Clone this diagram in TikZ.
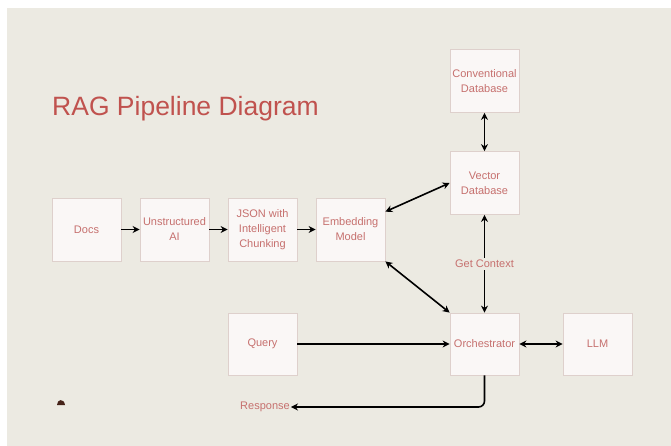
\documentclass[tikz,border=0pt]{standalone}
\usepackage{fontspec}
\setmainfont{Liberation Sans}
\usetikzlibrary{arrows.meta,calc}
\definecolor{bg}{RGB}{236,234,226}
\definecolor{boxfill}{RGB}{250,247,246}
\definecolor{boxline}{RGB}{222,208,204}
\definecolor{titlecol}{RGB}{192,82,78}
\definecolor{txtcol}{RGB}{198,112,110}
\definecolor{blob}{RGB}{70,35,25}
\tikzset{
  stagebox/.style={draw=boxline, fill=boxfill, line width=0.8pt, minimum width=69pt, minimum height=63pt,
    inner sep=1pt, align=center, text=txtcol, font=\fontsize{11}{15}\selectfont},
  arr/.style={draw=black, line width=1.6pt, -{Stealth[length=7pt,width=7pt]}},
  dblarr/.style={draw=black, line width=1.6pt, {Stealth[length=7pt,width=7pt]}-{Stealth[length=7pt,width=7pt]}},
  lbl/.style={text=txtcol, font=\fontsize{11}{13}\selectfont, inner sep=2pt}
}
\begin{document}
\begin{tikzpicture}[x=1pt,y=-1pt]
\useasboundingbox (0,0) rectangle (671,445);
\fill[white] (-5,-5) rectangle (680,455);
\fill[bg] (7,8) rectangle (680,455);
\node[anchor=base west, text=titlecol, font=\fontsize{26.5}{30}\selectfont, inner sep=0pt] (title) at (52,115) {RAG Pipeline Diagram};
\node[stagebox] (docs) at (86.5,229.5) {Docs};
\node[stagebox] (unst) at (174.5,229.5) {Unstructured\\AI};
\node[stagebox] (json) at (262.5,229.5) {JSON with\\Intelligent\\Chunking};
\node[stagebox] (emb) at (350.5,229.5) {Embedding\\Model};
\node[stagebox] (conv) at (484.5,81) {Conventional\\Database};
\node[stagebox] (vec) at (484.5,183) {Vector\\Database};
\node[stagebox, minimum height=62pt] (orch) at (484.5,344) {Orchestrator};
\node[stagebox, minimum height=62pt] (llm) at (597.5,344) {LLM};
\node[stagebox, minimum height=62pt] (query) at (262.5,344) {Query};
\node[lbl, inner sep=1pt] (resp) at (265,407) {Response};
\draw[arr] (docs) -- (unst);
\draw[arr] (unst) -- (json);
\draw[arr] (json) -- (emb);
\draw[dblarr] ($(emb.north east)!0.22!(emb.south east)$) -- (vec.west);
\draw[dblarr] (emb.south east) -- (orch.north west);
\draw[dblarr] (conv.south) -- (vec.north);
\draw[dblarr] (vec.south) -- (orch.north) node[midway, lbl, fill=bg] (ctx) {Get Context};
\draw[arr] (query.east) -- (orch.west);
\draw[dblarr] (orch.east) -- (llm.west);
\draw[arr, rounded corners=6pt] (orch.south) |- (resp.east);
\fill[blob] (57,405) .. controls (57,399) and (64,398) .. (65,405) -- cycle;
\end{tikzpicture}
\end{document}
